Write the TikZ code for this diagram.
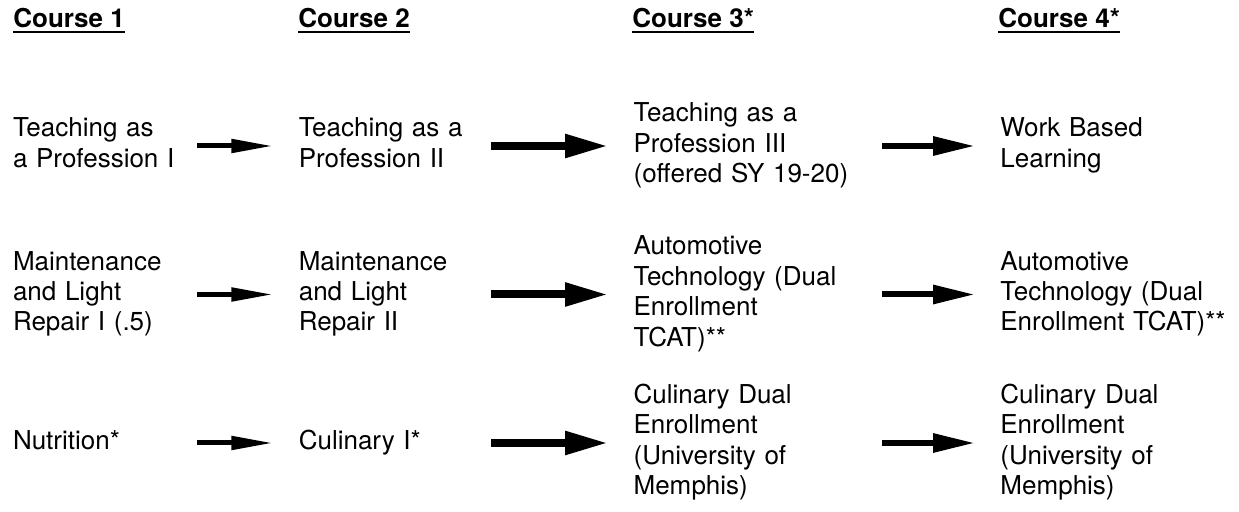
\documentclass[tikz,border=0pt]{standalone}
\usepackage{fontspec}
\setmainfont{TeX Gyre Heros}
\usetikzlibrary{positioning,arrows.meta}

% underlined column heading
\newcommand{\ulhead}[1]{\setbox0\hbox{#1}\rlap{\rule[-2.35pt]{\wd0}{1pt}}\box0}

\tikzset{
  course/.style={text width=#1, align=left, inner sep=0pt,
    font=\fontsize{13pt}{15.2pt}\selectfont,
    execute at begin node=\strut, execute at end node=\strut},
  heading/.style={anchor=base west, inner sep=0pt,
    font=\fontsize{13pt}{15.2pt}\selectfont\bfseries},
  small arrow/.style={-{Triangle[length=21pt,width=6.5pt]}, line width=2.5pt, shorten >=12.5pt},
  big arrow/.style={-{Triangle[length=21.5pt,width=11pt]}, line width=4pt, shorten >=12.5pt},
  mid arrow/.style={-{Triangle[length=21pt,width=9pt]}, line width=3pt, shorten >=12.5pt}
}

\begin{document}
\begin{tikzpicture}[x=0.5pt,y=-0.5pt,node distance=74.25pt]
        \useasboundingbox (0,0) rectangle (1239,512);

        % Column headings
        \node[heading] (h1) at (13,28) {\ulhead{Course 1}};
        \node[heading] (h2) at (298,28) {\ulhead{Course 2}};
        \node[heading] (h3) at (632,28) {\ulhead{Course 3*}};
        \node[heading] (h4) at (998,28) {\ulhead{Course 4*}};

        % Course 1
        \node[course=92pt] (tap1) at (105,146) {Teaching as\\a Profession I};
        \node[course=92pt] (mlr1) [below of=tap1] {Maintenance\\and Light\\Repair I (.5)};
        \node[course=92pt] (cul1) [below of=mlr1] {Nutrition*};

        % Course 2
        \node[course=96pt] (tap2) [right=50.5pt of tap1] {Teaching as a\\Profession II};
        \node[course=96pt] (mlr2) [right=50.5pt of mlr1] {Maintenance\\and Light\\Repair II};
        \node[course=96pt] (cul2) [right=50.5pt of cul1] {Culinary I*};

        % Course 3
        \node[course=124pt] (tap3) [right=71pt of tap2] {Teaching as a\\Profession III\\(offered SY 19-20)};
        \node[course=124pt] (aut3) [right=71pt of mlr2] {Automotive\\Technology (Dual\\Enrollment\\TCAT)**};
        \node[course=124pt] (cul3) [right=71pt of cul2] {Culinary Dual\\Enrollment\\(University of\\Memphis)};

        % Course 4
        \node[course=118pt] (wbl4) [right=59pt of tap3] {Work Based\\Learning};
        \node[course=118pt] (aut4) [right=59pt of aut3] {Automotive\\Technology (Dual\\Enrollment TCAT)**};
        \node[course=118pt] (cul4) [right=59pt of cul3] {Culinary Dual\\Enrollment\\(University of\\Memphis)};

        % Draw arrows
        \path[small arrow]
            (tap1) edge (tap2)
            (mlr1) edge (mlr2)
            (cul1) edge (cul2);
        \path[big arrow]
            (tap2) edge (tap3)
            (mlr2) edge (aut3)
            (cul2) edge (cul3);
        \path[mid arrow]
            (tap3) edge (wbl4)
            (aut3) edge (aut4)
            (cul3) edge (cul4);

\end{tikzpicture}
\end{document}
